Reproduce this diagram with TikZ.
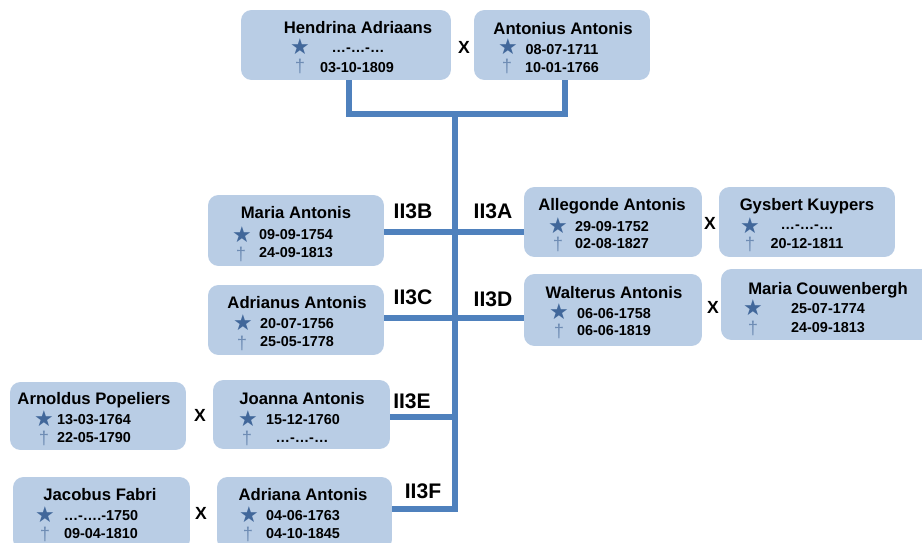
\documentclass[tikz,border=0pt]{standalone}
\usepackage{fontspec}
\setmainfont{Liberation Sans}
\newfontfamily\symbolfont{DejaVu Sans}
\usepackage{xcolor}
\usetikzlibrary{positioning,calc}
\definecolor{boxblue}{HTML}{B9CDE5}
\definecolor{lineblue}{HTML}{4F81BD}
\definecolor{starblue}{HTML}{41679A}
\definecolor{crossblue}{HTML}{6E8CB4}

\begin{document}
\begin{tikzpicture}[x=0.02cm,y=-0.02cm,
    box/.style={fill=boxblue, rounded corners=6pt, inner sep=0pt},
    naam/.style={font=\fontsize{9.5}{10}\selectfont\bfseries, inner sep=0pt, text height=6.8pt, text depth=0pt},
    datum/.style={font=\fontsize{8.2}{9}\selectfont\bfseries, inner sep=0pt, text height=5.9pt, text depth=0pt},
    ster/.style={text=starblue, font=\symbolfont\fontsize{12.5}{13}\selectfont, inner sep=0pt, yshift=0.5pt},
    kruis/.style={text=crossblue, font=\fontsize{10.5}{11}\selectfont, inner sep=0pt, yshift=-0.6pt},
    gen/.style={font=\fontsize{12}{12}\selectfont\bfseries, inner sep=0pt},
    huw/.style={font=\fontsize{10}{10}\selectfont\bfseries, inner sep=0pt},
    tak/.style={draw=lineblue, line width=3.4pt}]
        \useasboundingbox (0,0) rectangle (922,543);

        % ouders
        \node[box, minimum width=4.2cm, minimum height=1.4cm] (hendrina) at (346,45) {};
        \node[naam] (hendrina-naam) at (358,28) {Hendrina Adriaans};
        \node[ster] (hendrina-ster) at (300,47) {★};
        \node[kruis] (hendrina-kruis) at (300,65) {†};
        \node[datum] (hendrina-geb) at (358,47) {…-…-…};
        \node[datum] (hendrina-ovl) at (357,67) {03-10-1809};

        \node[box, minimum width=3.52cm, minimum height=1.4cm] (antonius) at (562,45) {};
        \node[naam] (antonius-naam) at (563,29) {Antonius Antonis};
        \node[ster] (antonius-ster) at (508,47) {★};
        \node[kruis] (antonius-kruis) at (507,65.5) {†};
        \node[datum] (antonius-geb) at (562,49) {08-07-1711};
        \node[datum] (antonius-ovl) at (562,67) {10-01-1766};
        \node[huw] (x1) at (464,47) {X};

        % kinderen
        \node[box, minimum width=3.52cm, minimum height=1.42cm] (mariaA) at (296,230.5) {};
        \node[naam] (mariaA-naam) at (296,213) {Maria Antonis};
        \node[ster] (mariaA-ster) at (242,235) {★};
        \node[kruis] (mariaA-kruis) at (241,253) {†};
        \node[datum] (mariaA-geb) at (296,234) {09-09-1754};
        \node[datum] (mariaA-ovl) at (296,252.5) {24-09-1813};

        \node[box, minimum width=3.52cm, minimum height=1.4cm] (adrianus) at (296,320) {};
        \node[naam] (adrianus-naam) at (297,303) {Adrianus Antonis};
        \node[ster] (adrianus-ster) at (243,323) {★};
        \node[kruis] (adrianus-kruis) at (242,342) {†};
        \node[datum] (adrianus-geb) at (297,323) {20-07-1756};
        \node[datum] (adrianus-ovl) at (297,341) {25-05-1778};

        \node[box, minimum width=3.56cm, minimum height=1.4cm] (allegonde) at (613,222) {};
        \node[naam] (allegonde-naam) at (612,205) {Allegonde Antonis};
        \node[ster] (allegonde-ster) at (558,226) {★};
        \node[kruis] (allegonde-kruis) at (558,243) {†};
        \node[datum] (allegonde-geb) at (612,226) {29-09-1752};
        \node[datum] (allegonde-ovl) at (612,243) {02-08-1827};

        \node[box, minimum width=3.52cm, minimum height=1.4cm] (gysbert) at (807,222) {};
        \node[naam] (gysbert-naam) at (807,205) {Gysbert Kuypers};
        \node[ster] (gysbert-ster) at (750,226) {★};
        \node[kruis] (gysbert-kruis) at (750,243) {†};
        \node[datum] (gysbert-geb) at (807,224) {…-…-…};
        \node[datum] (gysbert-ovl) at (807,243) {20-12-1811};
        \node[huw] (x2) at (710,223) {X};

        \node[box, minimum width=3.56cm, minimum height=1.44cm] (walterus) at (613,310) {};
        \node[naam] (walterus-naam) at (614,293) {Walterus Antonis};
        \node[ster] (walterus-ster) at (559,312) {★};
        \node[kruis] (walterus-kruis) at (559,330) {†};
        \node[datum] (walterus-geb) at (614,313) {06-06-1758};
        \node[datum] (walterus-ovl) at (614,330) {06-06-1819};

        \node[box, minimum width=4.38cm, minimum height=1.42cm] (couwenbergh) at (830.5,304.5) {};
        \node[naam] (couwenbergh-naam) at (828,289) {Maria Couwenbergh};
        \node[ster] (couwenbergh-ster) at (753,308) {★};
        \node[kruis] (couwenbergh-kruis) at (753,327) {†};
        \node[datum] (couwenbergh-geb) at (828,308) {25-07-1774};
        \node[datum] (couwenbergh-ovl) at (828,327) {24-09-1813};
        \node[huw] (x3) at (713,307) {X};

        \node[box, minimum width=3.52cm, minimum height=1.36cm] (arnoldus) at (98,416) {};
        \node[naam] (arnoldus-naam) at (94,399) {Arnoldus Popeliers};
        \node[ster] (arnoldus-ster) at (44,419) {★};
        \node[kruis] (arnoldus-kruis) at (44,437) {†};
        \node[datum] (arnoldus-geb) at (94,419) {13-03-1764};
        \node[datum] (arnoldus-ovl) at (94,437) {22-05-1790};

        \node[box, minimum width=3.54cm, minimum height=1.38cm] (joanna) at (301.5,414.5) {};
        \node[naam] (joanna-naam) at (302,399) {Joanna Antonis};
        \node[ster] (joanna-ster) at (248,419) {★};
        \node[kruis] (joanna-kruis) at (247,437) {†};
        \node[datum] (joanna-geb) at (303,419) {15-12-1760};
        \node[datum] (joanna-ovl) at (302,437) {…-…-…};
        \node[huw] (x4) at (200,415) {X};

        \node[box, minimum width=3.54cm, minimum height=1.46cm] (jacobus) at (101.5,513.5) {};
        \node[naam] (jacobus-naam) at (100,495) {Jacobus Fabri};
        \node[ster] (jacobus-ster) at (45,515) {★};
        \node[kruis] (jacobus-kruis) at (45,533) {†};
        \node[datum] (jacobus-geb) at (101,515) {…-….-1750};
        \node[datum] (jacobus-ovl) at (101,533) {09-04-1810};

        \node[box, minimum width=3.5cm, minimum height=1.46cm] (adriana) at (304.5,513.5) {};
        \node[naam] (adriana-naam) at (303,495) {Adriana Antonis};
        \node[ster] (adriana-ster) at (249,515) {★};
        \node[kruis] (adriana-kruis) at (248,533) {†};
        \node[datum] (adriana-geb) at (303,515) {04-06-1763};
        \node[datum] (adriana-ovl) at (303,533) {04-10-1845};
        \node[huw] (x5) at (201,513) {X};

        % stamlijnen
        \coordinate (top) at (455,114);
        \coordinate (bottom) at (455,509);
        \draw[tak] ([xshift=1.7pt]hendrina.south) |- (top) -| ([xshift=1.7pt]antonius.south);
        \draw[tak] (top) |- (adriana.east |- bottom);
        \draw[tak] ([yshift=-0.8pt]mariaA.east) -- ([yshift=-0.8pt]mariaA.east -| allegonde.west);
        \draw[tak] ([yshift=1.1pt]adrianus.east) -- ([yshift=1.1pt]adrianus.east -| walterus.west);
        \draw[tak] ([yshift=-1.4pt]joanna.east) -- ([yshift=-1.4pt]joanna.east -| top);

        \node[gen] (ii3b) at (413,211) {II3B};
        \node[gen] (ii3a) at (493,211) {II3A};
        \node[gen] (ii3c) at (413,297) {II3C};
        \node[gen] (ii3d) at (493,299) {II3D};
        \node[gen] (ii3e) at (412,401) {II3E};
        \node[gen] (ii3f) at (423,491) {II3F};
    \end{tikzpicture}
\end{document}
